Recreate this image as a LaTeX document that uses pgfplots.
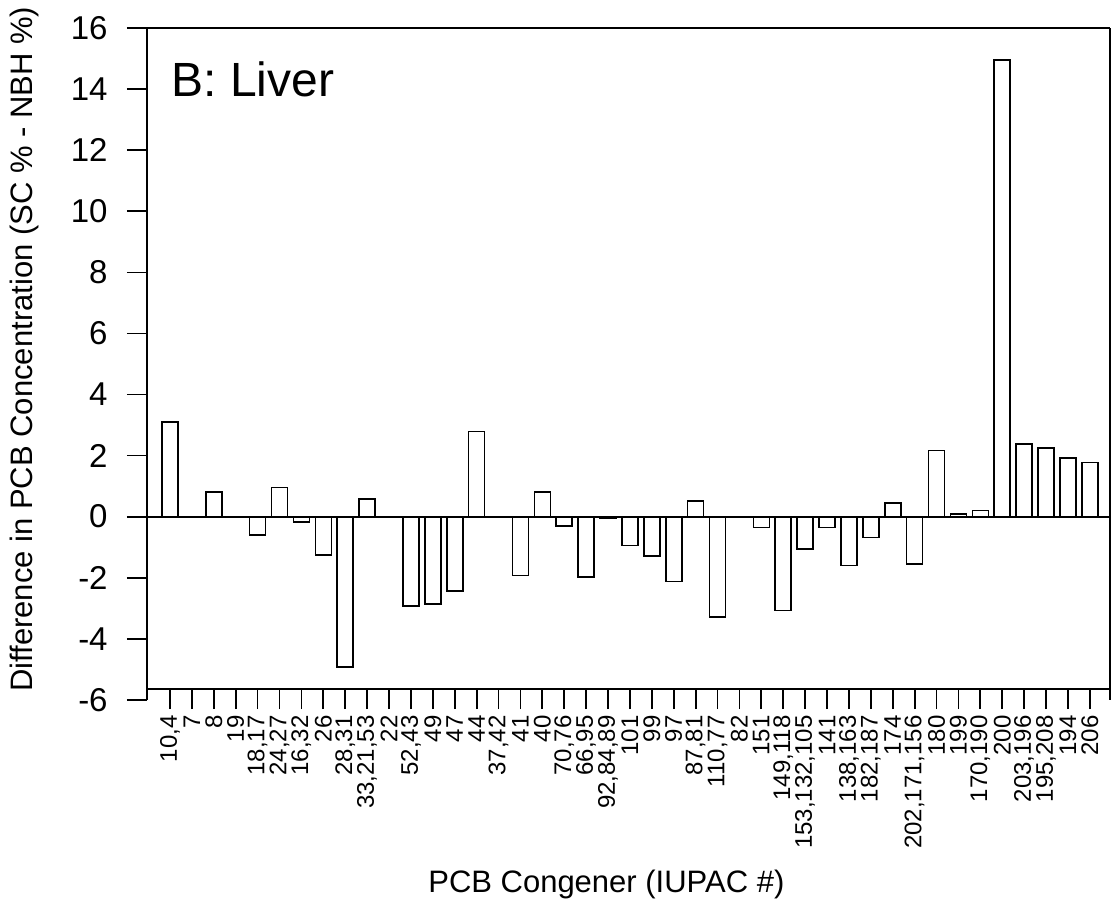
\documentclass[border=0pt]{standalone}
\usepackage{pgfplots}
\pgfplotsset{compat=1.18}
\usepackage{fontspec}
\setmainfont{Liberation Sans}
\begin{document}
\begin{tikzpicture}
\begin{axis}[
  scale only axis, width=481.5pt, height=335.8pt,
  xmin=-1.05, xmax=42.92, ymin=-6, ymax=16,
  axis x line*=bottom, axis x line shift=-5.34pt,
  axis line style={line width=0.9pt, black},
  ytick={-6,-4,...,16},
  yticklabels={-6,-4,-2,0,2,4,6,8,10,12,14,16},
  ytick pos=left,
  tick align=outside, major tick length=10pt,
  tick style={line width=0.9pt, black},
  xtick={0,...,42},
  xticklabels={{10,4},{7},{8},{19},{18,17},{24,27},{16,32},{26},{28,31},{33,21,53},{22},{52,43},{49},{47},{44},{37,42},{41},{40},{70,76},{66,95},{92,84,89},{101},{99},{97},{87,81},{110,77},{82},{151},{149,118},{153,132,105},{141},{138,163},{182,187},{174},{202,171,156},{180},{199},{170,190},{200},{203,196},{195,208},{194},{206}},
  xticklabel style={rotate=90, anchor=east, font=\fontsize{12}{13}\selectfont, inner sep=0pt, xshift=-3pt},
  yticklabel style={font=\fontsize{16.5}{18}\selectfont, inner sep=0pt, xshift=-9.5pt},
  xlabel={PCB Congener (IUPAC \#)},
  ylabel={Difference in PCB Concentration (SC \% - NBH \%)},
  xlabel style={at={(axis description cs:0.477,-0.2865)}, anchor=base, font=\fontsize{15.5}{17}\selectfont},
  ylabel style={at={(axis description cs:-0.1184,0.522)}, anchor=base, font=\fontsize{15.5}{17}\selectfont},
  ybar, bar width=8pt, clip=false,
]
\addplot[ybar, draw=black, fill=white, line width=0.8pt] coordinates {
(0,3.1) (2,0.8) (4,-0.6) (5,0.95) (6,-0.17) (7,-1.26) (8,-4.92) (9,0.58)
(11,-2.92) (12,-2.86) (13,-2.44) (14,2.79) (16,-1.93) (17,0.81) (18,-0.3)
(19,-1.97) (20,-0.04) (21,-0.95) (22,-1.29) (23,-2.13) (24,0.52) (25,-3.28)
(27,-0.35) (28,-3.08) (29,-1.06) (30,-0.36) (31,-1.6) (32,-0.68) (33,0.44)
(34,-1.55) (35,2.16) (36,0.09) (37,0.2) (38,14.95) (39,2.37) (40,2.24)
(41,1.93) (42,1.77)
};
\draw[line width=0.9pt] (axis cs:-1.05,0) -- (axis cs:42.92,0);
\draw[line width=0.9pt] (rel axis cs:0,1) -- (rel axis cs:1,1);
\node[anchor=base west, inner sep=0pt, font=\fontsize{24}{26}\selectfont] at (axis description cs:0.0249,0.8983) {B: Liver};
\path (rel axis cs:-0.15265,-0.31373) rectangle (rel axis cs:1.00935,1.03975);
\end{axis}
\end{tikzpicture}
\end{document}
